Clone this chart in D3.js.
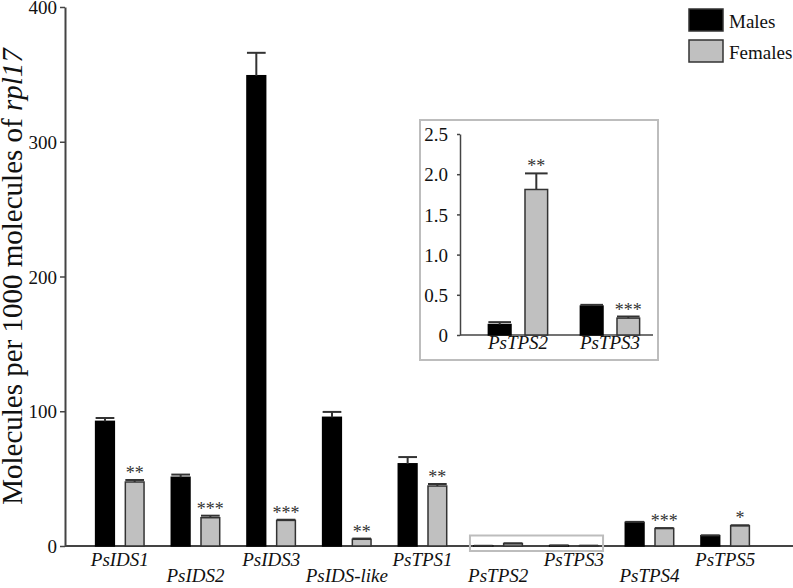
<!DOCTYPE html>
<html>
<head>
<meta charset="utf-8">
<script src="https://cdn.jsdelivr.net/npm/d3@7"></script>
</head>
<body style="margin:0">
<svg id="chart" width="793" height="588" font-family="Liberation Serif"></svg>
<script>

/* Données
-------------------------------------------------------------------------------------------------*/
const genes = ["PsIDS1", "PsIDS2", "PsIDS3", "PsIDS-like", "PsTPS1", "PsTPS2", "PsTPS3", "PsTPS4", "PsTPS5"]
const males = [92.5, 51, 349, 95.5, 61, 0.13, 0.36, 17.6, 7.7]
const malesErr = [2.5, 2, 17, 4, 5, 0.03, 0.015, 0.3, 0.2]
const females = [47.5, 21, 19, 5, 44.5, 1.81, 0.21, 13, 15]
const femalesErr = [1.5, 1.5, 0.5, 0.5, 1.5, 0.2, 0.02, 0.3, 0.4]
const femaleStars = ["**", "***", "***", "**", "**", "", "", "***", "*"]

const insetGenes = ["PsTPS2", "PsTPS3"]
const insetStars = ["**", "***"]

const yTicks = [0, 100, 200, 300, 400]
const insetTicks = [0, 0.5, 1.0, 1.5, 2.0, 2.5]

const series = ["Males", "Females"]
const colors = {Males: "#000000", Females: "#c0c0c0"}

const ink = "#333"
const frame = "#bdbdbd"
const fontName = "'Liberation Serif'"

const svg = d3.select("#chart")

// petit utilitaire pour tous les textes
const label = (sel, size) => sel
  .style("font-family", fontName)
  .style("font-size", size + "px")
  .style("fill", "#111")

const rowsFor = (list, stars) => list.map((gene) => {
  const i = genes.indexOf(gene)
  return {
    gene,
    values: [
      {serie: "Males", value: males[i], err: malesErr[i], stars: ""},
      {serie: "Females", value: females[i], err: femalesErr[i], stars: stars[list.indexOf(gene)]}
    ]
  }
})

// Barres + erreurs + étoiles
const drawBars = (g, rows, x0, x1, y, starSize) => {

  const groups = g.selectAll(".group")
    .data(rows)
    .enter()
    .append("g")
    .attr("class", "group")
    .attr("transform", d => "translate(" + x0(d.gene) + ",0)")

  const bars = groups.selectAll(".bar")
    .data(d => d.values)
    .enter()

  bars.append("rect")
    .attr("x", d => x1(d.serie))
    .attr("y", d => y(d.value))
    .attr("width", x1.bandwidth())
    .attr("height", d => y(0) - y(d.value))
    .style("fill", d => colors[d.serie])
    .style("stroke", d => d.serie === "Males" ? "#000" : ink)
    .style("stroke-width", 1.5)

  bars.append("line")
    .attr("x1", d => x1(d.serie) + x1.bandwidth() / 2)
    .attr("x2", d => x1(d.serie) + x1.bandwidth() / 2)
    .attr("y1", d => y(d.value))
    .attr("y2", d => y(d.value + d.err))
    .style("stroke", ink)
    .style("stroke-width", 2)

  bars.append("line")
    .attr("x1", d => x1(d.serie))
    .attr("x2", d => x1(d.serie) + x1.bandwidth())
    .attr("y1", d => y(d.value + d.err))
    .attr("y2", d => y(d.value + d.err))
    .style("stroke", ink)
    .style("stroke-width", 2)

  bars.append("text")
    .attr("x", d => x1(d.serie) + x1.bandwidth() / 2)
    .attr("y", d => y(d.value + d.err) - 1)
    .attr("text-anchor", "middle")
    .call(label, starSize)
    .style("fill", ink)
    .text(d => d.stars)
}


/* Graphique principal
-------------------------------------------------------------------------------------------------*/
const left = 65
const right = 793

const y = d3.scaleLinear().domain([0, 400]).range([546, 7])
const x0 = d3.scaleBand().domain(genes).range([82, 763]).paddingInner(0.36).paddingOuter(0.18)
const x1 = d3.scaleBand().domain(series).range([0, x0.bandwidth()]).paddingInner(0.37)

// Axe des y
const yAxis = svg.append("g")
  .attr("transform", "translate(" + left + ",0)")
  .call(d3.axisLeft(y).tickValues(yTicks).tickSize(5).tickSizeOuter(0).tickPadding(3))
  .attr("font-family", "Liberation Serif")
  .attr("font-size", 19)

yAxis.select(".domain").style("stroke", "#444").style("stroke-width", 2)
yAxis.selectAll(".tick line").style("stroke", "#444").style("stroke-width", 1.5)
yAxis.selectAll(".tick text").call(label, 19).attr("dy", "0.35em")

// Légende de l'axe
svg.append("text")
  .attr("transform", "translate(22," + (y(0) + y(400)) / 2 + ") rotate(-90)")
  .attr("text-anchor", "middle")
  .call(label, 29)
  .text("Molecules per 1000 molecules of ")
  .append("tspan")
  .style("font-style", "italic")
  .text("rpl17")

// Axe des x
svg.append("line")
  .attr("x1", left)
  .attr("x2", right)
  .attr("y1", y(0))
  .attr("y2", y(0))
  .style("stroke", "#444")
  .style("stroke-width", 2)

svg.append("g")
  .selectAll("text")
  .data(genes)
  .enter()
  .append("text")
  .attr("x", d => x0(d) + x0.bandwidth() / 2)
  .attr("y", (d, i) => y(0) + (i % 2 ? 36 : 20))
  .attr("text-anchor", "middle")
  .call(label, 19)
  .style("font-style", "italic")
  .text(d => d)

drawBars(svg.append("g"), rowsFor(genes, femaleStars), x0, x1, y, 18)

// Cadre autour de PsTPS2 / PsTPS3
svg.append("rect")
  .attr("x", x0("PsTPS2") - 4)
  .attr("y", y(0) - 10.5)
  .attr("width", x0("PsTPS3") + x0.bandwidth() + 5 - (x0("PsTPS2") - 4))
  .attr("height", 15.5)
  .style("fill", "none")
  .style("stroke", frame)
  .style("stroke-width", 2)


/* Encart
-------------------------------------------------------------------------------------------------*/
const inset = svg.append("g")

inset.append("rect")
  .attr("x", 420)
  .attr("y", 120)
  .attr("width", 238)
  .attr("height", 240)
  .style("fill", "#fff")
  .style("stroke", frame)
  .style("stroke-width", 2)

const yi = d3.scaleLinear().domain([0, 2.5]).range([335, 134])
const x0i = d3.scaleBand().domain(insetGenes).range([472, 656]).paddingInner(0.356).paddingOuter(0.178)
const x1i = d3.scaleBand().domain(series).range([0, x0i.bandwidth()]).paddingInner(0.382)

const yiAxis = inset.append("g")
  .attr("transform", "translate(460,0)")
  .call(d3.axisLeft(yi).tickValues(insetTicks).tickSize(3).tickSizeOuter(0).tickPadding(9)
    .tickFormat(d => d === 0 ? "0" : d.toFixed(1)))
  .attr("font-family", "Liberation Serif")
  .attr("font-size", 19)

yiAxis.select(".domain").style("stroke", "#444").style("stroke-width", 1.5)
yiAxis.selectAll(".tick line").style("stroke", "#444").style("stroke-width", 1.5)
yiAxis.selectAll(".tick text").call(label, 19).attr("dy", "0.35em")

inset.append("line")
  .attr("x1", 460)
  .attr("x2", 653)
  .attr("y1", yi(0))
  .attr("y2", yi(0))
  .style("stroke", "#444")
  .style("stroke-width", 1.5)

inset.append("g")
  .selectAll("text")
  .data(insetGenes)
  .enter()
  .append("text")
  .attr("x", d => x0i(d) + x0i.bandwidth() / 2)
  .attr("y", yi(0) + 14)
  .attr("text-anchor", "middle")
  .call(label, 19)
  .style("font-style", "italic")
  .text(d => d)

drawBars(inset.append("g"), rowsFor(insetGenes, insetStars), x0i, x1i, yi, 18)


/* Légende
-------------------------------------------------------------------------------------------------*/
const legend = svg.append("g")
  .selectAll("g")
  .data(series)
  .enter()
  .append("g")
  .attr("transform", (d, i) => "translate(689," + (9 + i * 31) + ")")

legend.append("rect")
  .attr("width", 34)
  .attr("height", 22)
  .style("fill", d => colors[d])
  .style("stroke", ink)
  .style("stroke-width", 1.5)

legend.append("text")
  .attr("x", 40)
  .attr("y", 19)
  .call(label, 19)
  .text(d => d)

</script>
</body>
</html>
